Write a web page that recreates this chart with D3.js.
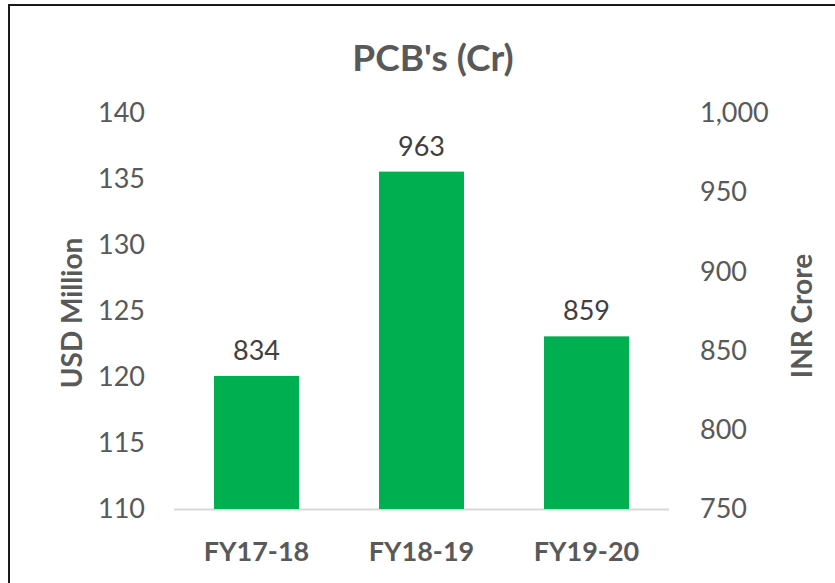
<!DOCTYPE html>
<meta charset="utf-8">
<title>PCB's (Cr)</title>
<script src="https://d3js.org/d3.v7.min.js"></script>
<style>
  body { margin: 0; background: #fff; font-family: "Lato", "Open Sans", sans-serif; }
</style>
<div id="chart"></div>
<script>
  // data
  var years = ["FY17-18", "FY18-19", "FY19-20"];
  var inrCrore = [834, 963, 859];
  var usdTicks = [110, 115, 120, 125, 130, 135, 140];
  var inrTicks = [750, 800, 850, 900, 950, 1000];

  var W = 835, H = 583;
  var plot = {left: 174, right: 669, top: 113, bottom: 509};

  var svg = d3.select("#chart").append("svg")
      .attr("width", W).attr("height", H);

  // chart frame (only top and left edges fall inside the picture)
  svg.append("path")
    .attr("d", "M9," + H + "V5H" + W)
    .attr("fill", "none")
    .attr("stroke", "#1a1a1a")
    .attr("stroke-width", 2);

  var x = d3.scaleBand().domain(years).range([plot.left, plot.right]).paddingInner(0.485).paddingOuter(0.2425);
  var yL = d3.scaleLinear().domain([110, 140]).range([plot.bottom, plot.top]);
  var yR = d3.scaleLinear().domain([750, 1000]).range([plot.bottom, plot.top]);

  // title
  svg.append("text")
    .attr("x", 433).attr("y", 71)
    .attr("text-anchor", "middle")
    .style("font-size", "37px").style("font-weight", "bold")
    .attr("fill", "#595959")
    .text("PCB's (Cr)");

  // left axis
  var left = svg.append("g")
    .attr("transform", "translate(" + (plot.left - 29) + ",0)")
    .call(d3.axisLeft(yL).tickValues(usdTicks).tickSize(0).tickPadding(0));
  left.select(".domain").remove();
  left.selectAll("text").style("font-size", "27px").attr("fill", "#595959")
    .style("font-family", "Lato, sans-serif");

  // right axis
  var right = svg.append("g")
    .attr("transform", "translate(" + (plot.right + 31) + ",0)")
    .call(d3.axisRight(yR).tickValues(inrTicks).tickSize(0).tickPadding(0).tickFormat(d3.format(",")));
  right.select(".domain").remove();
  right.selectAll("text").style("font-size", "27px").attr("fill", "#595959")
    .style("font-family", "Lato, sans-serif");

  // baseline
  svg.append("line")
    .attr("x1", plot.left).attr("x2", plot.right)
    .attr("y1", plot.bottom + 0.5).attr("y2", plot.bottom + 0.5)
    .attr("stroke", "#d9d9d9").attr("stroke-width", 2);

  // bars
  svg.selectAll(".bar")
    .data(inrCrore)
    .enter().append("rect")
    .attr("class", "bar")
    .attr("x", function(d, i) { return x(years[i]); })
    .attr("y", function(d) { return yR(d); })
    .attr("width", x.bandwidth())
    .attr("height", function(d) { return yR(750) - yR(d); })
    .attr("fill", "#00b050");

  // value labels
  svg.selectAll(".val")
    .data(inrCrore)
    .enter().append("text")
    .attr("class", "val")
    .attr("x", function(d, i) { return x(years[i]) + x.bandwidth() / 2; })
    .attr("y", function(d) { return yR(d) - 16; })
    .attr("text-anchor", "middle")
    .style("font-size", "27px")
    .attr("fill", "#404040")
    .text(function(d) { return d; });

  // category labels
  var bottom = svg.append("g")
    .attr("transform", "translate(0," + plot.bottom + ")")
    .call(d3.axisBottom(x).tickSize(0).tickPadding(0));
  bottom.select(".domain").remove();
  bottom.selectAll("text").attr("y", 52).attr("dy", 0)
    .style("font-size", "27px").style("font-weight", "bold")
    .style("font-family", "Lato, sans-serif")
    .attr("fill", "#595959");

  // axis titles
  svg.append("text")
    .attr("transform", "translate(82,313) rotate(-90)")
    .attr("text-anchor", "middle")
    .style("font-size", "28px").style("font-weight", "bold")
    .attr("fill", "#595959")
    .text("USD Million");

  svg.append("text")
    .attr("transform", "translate(812,316) rotate(-90)")
    .attr("text-anchor", "middle")
    .style("font-size", "28px").style("font-weight", "bold")
    .attr("fill", "#595959")
    .text("INR Crore");
</script>
